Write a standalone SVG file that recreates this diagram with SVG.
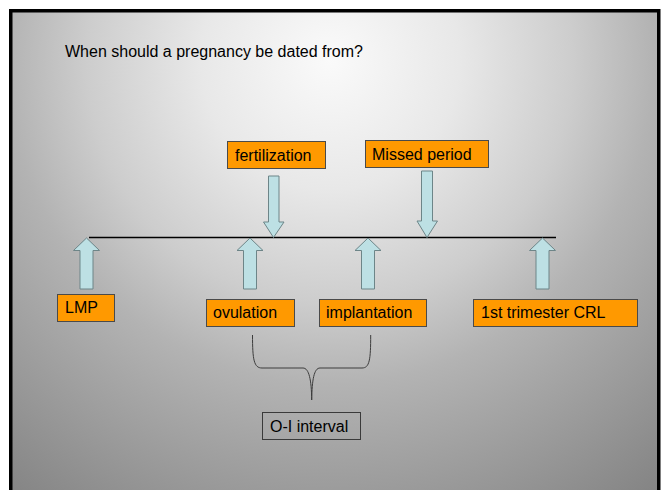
<svg xmlns="http://www.w3.org/2000/svg" width="666" height="490" viewBox="0 0 666 490">
<defs>
<radialGradient id="bg" gradientUnits="userSpaceOnUse" cx="330" cy="60" r="540">
<stop offset="0" stop-color="#fafafa"/>
<stop offset="0.24" stop-color="#e8e8e8"/>
<stop offset="0.45" stop-color="#cdcdcd"/>
<stop offset="0.6" stop-color="#b3b3b3"/>
<stop offset="0.7" stop-color="#a7a7a7"/>
<stop offset="1" stop-color="#848484"/>
</radialGradient>
<style>
.box{fill:#ff9900;stroke:#4a4a4a;stroke-width:1}
.obox{fill:none;stroke:#3a3a3a;stroke-width:1}
.t{font-family:"Liberation Sans",Arial,sans-serif;font-size:16px;fill:#000}
.arr{fill:#bde0e4;stroke:#6d8588;stroke-width:1;stroke-linejoin:miter}
.ln{fill:none;stroke:#000;stroke-width:1.3}
.br{fill:none;stroke:#3c3c3c;stroke-width:1}
</style>
</defs>
<rect x="0" y="0" width="666" height="490" fill="#ffffff"/>
<rect x="10.75" y="10.75" width="648" height="500" fill="url(#bg)" stroke="#000" stroke-width="3.5"/>
<text class="t" x="65" y="57">When should a pregnancy be dated from?</text>

<g id="connectors">
<line class="ln" x1="89" y1="237.5" x2="556" y2="237.5"/>
<path class="br" d="M252.5,335 C252.5,360 254,368 262,368 L303,368 C309,368 311.5,380 311.7,400 C312,380 314,368 320,368 L362,368 C369.5,368 370.7,360 370.7,335"/>
</g>

<g id="arrow-lmp"><path class="arr" d="M86.5,238 L99.5,250.5 L93,250.5 L93,289 L80,289 L80,250.5 L73.5,250.5 Z"/></g>
<g id="arrow-ovulation"><path class="arr" d="M250,238 L263,250.5 L256.5,250.5 L256.5,289 L243.5,289 L243.5,250.5 L237,250.5 Z"/></g>
<g id="arrow-implantation"><path class="arr" d="M368,238 L381,250.5 L374.5,250.5 L374.5,289 L361.5,289 L361.5,250.5 L355,250.5 Z"/></g>
<g id="arrow-crl"><path class="arr" d="M542.5,238 L555.5,250.5 L549,250.5 L549,289 L536,289 L536,250.5 L529.5,250.5 Z"/></g>
<g id="arrow-fertilization"><path class="arr" d="M268.5,176 L279,176 L279,222 L284,222 L273.5,237.5 L263.5,222 L268.5,222 Z"/></g>
<g id="arrow-missed"><path class="arr" d="M421.5,171 L432.5,171 L432.5,221 L437.5,221 L427,237.5 L417,221 L421.5,221 Z"/></g>

<g id="fertilization"><rect class="box" x="227.5" y="141.5" width="98" height="27"/><text class="t" x="235" y="160.5">fertilization</text></g>
<g id="missed-period"><rect class="box" x="365.5" y="140.5" width="123" height="27"/><text class="t" x="372" y="160">Missed period</text></g>
<g id="lmp"><rect class="box" x="57.5" y="294.5" width="57" height="27"/><text class="t" x="65" y="313">LMP</text></g>
<g id="ovulation"><rect class="box" x="206.5" y="299.5" width="88" height="27"/><text class="t" x="213" y="318">ovulation</text></g>
<g id="implantation"><rect class="box" x="319.5" y="299.5" width="107" height="27"/><text class="t" x="326" y="318">implantation</text></g>
<g id="crl"><rect class="box" x="473.5" y="299.5" width="164" height="27"/><text class="t" x="481" y="318">1st trimester CRL</text></g>
<g id="oi-interval"><rect class="obox" x="262.5" y="412.5" width="98" height="27"/><text class="t" x="270" y="432">O-I interval</text></g>
</svg>
